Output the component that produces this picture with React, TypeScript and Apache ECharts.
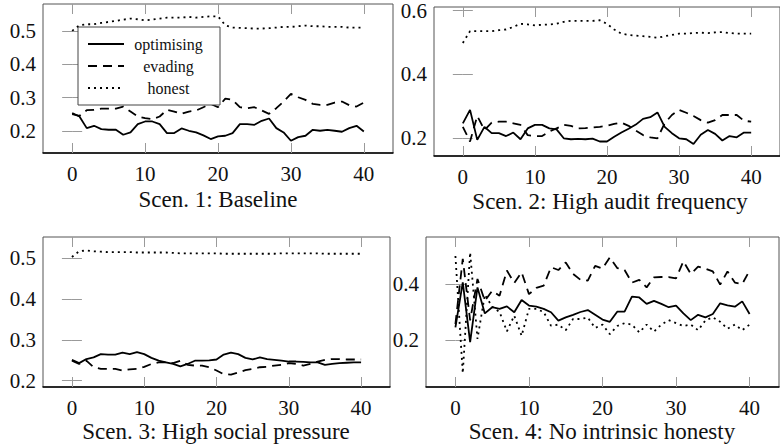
import React, { useEffect, useRef } from "react";
import * as echarts from "echarts";

const steps = Array.from({ length: 41 }, (_, i) => i);
const seriesNames = ["optimising", "evading", "honest"];
const panelTitles = [
  "Scen. 1: Baseline",
  "Scen. 2: High audit frequency",
  "Scen. 3: High social pressure",
  "Scen. 4: No intrinsic honesty",
];
const xTicks = [0, 10, 20, 30, 40];
const yTicks1 = [0.2, 0.3, 0.4, 0.5];
const yTicks2 = [0.2, 0.4, 0.6];
const yTicks3 = [0.2, 0.3, 0.4, 0.5];
const yTicks4 = [0.2, 0.4];

const s1Opt = [0.253,0.243,0.208,0.215,0.205,0.203,0.203,0.188,0.195,0.22,0.228,0.228,0.22,0.193,0.193,0.207,0.2,0.195,0.186,0.175,0.183,0.185,0.193,0.22,0.22,0.218,0.23,0.237,0.208,0.195,0.17,0.181,0.185,0.203,0.2,0.203,0.2,0.197,0.208,0.215,0.198];
const s1Eva = [0.25,0.245,0.262,0.263,0.267,0.267,0.267,0.273,0.258,0.243,0.238,0.235,0.243,0.263,0.258,0.251,0.258,0.261,0.271,0.281,0.271,0.297,0.293,0.271,0.268,0.271,0.261,0.251,0.268,0.288,0.311,0.301,0.293,0.281,0.278,0.278,0.285,0.288,0.277,0.273,0.285];
const s1Hon = [0.501,0.518,0.521,0.521,0.525,0.528,0.531,0.535,0.538,0.536,0.533,0.535,0.538,0.541,0.541,0.541,0.543,0.541,0.543,0.545,0.545,0.518,0.511,0.51,0.509,0.508,0.508,0.509,0.511,0.513,0.513,0.515,0.517,0.515,0.515,0.513,0.513,0.513,0.511,0.511,0.511];

const s2Opt = [0.247,0.289,0.195,0.236,0.216,0.216,0.207,0.218,0.197,0.231,0.242,0.242,0.231,0.228,0.2,0.197,0.198,0.197,0.199,0.19,0.19,0.205,0.218,0.23,0.243,0.261,0.266,0.281,0.236,0.216,0.2,0.197,0.182,0.211,0.226,0.214,0.193,0.207,0.203,0.218,0.218];
const s2Eva = [0.236,0.19,0.27,0.226,0.249,0.252,0.252,0.247,0.242,0.21,0.207,0.207,0.221,0.231,0.242,0.239,0.231,0.232,0.234,0.236,0.239,0.245,0.249,0.239,0.224,0.21,0.203,0.2,0.247,0.273,0.289,0.28,0.27,0.257,0.249,0.257,0.273,0.273,0.273,0.255,0.252];
const s2Hon = [0.499,0.536,0.536,0.536,0.536,0.539,0.541,0.549,0.559,0.557,0.554,0.556,0.557,0.559,0.565,0.568,0.568,0.568,0.568,0.57,0.559,0.541,0.528,0.524,0.522,0.52,0.518,0.515,0.52,0.524,0.528,0.528,0.53,0.531,0.53,0.532,0.533,0.53,0.528,0.528,0.528];

const s3Opt = [0.251,0.243,0.253,0.257,0.265,0.264,0.264,0.269,0.265,0.27,0.265,0.256,0.249,0.245,0.241,0.235,0.241,0.249,0.249,0.25,0.252,0.264,0.269,0.265,0.256,0.252,0.257,0.253,0.251,0.249,0.247,0.247,0.246,0.245,0.245,0.239,0.241,0.243,0.244,0.245,0.245];
const s3Eva = [0.249,0.241,0.249,0.233,0.229,0.229,0.229,0.225,0.228,0.229,0.234,0.241,0.245,0.245,0.243,0.249,0.239,0.237,0.237,0.233,0.225,0.216,0.215,0.22,0.226,0.229,0.233,0.234,0.237,0.239,0.243,0.241,0.237,0.241,0.247,0.251,0.253,0.253,0.252,0.252,0.252];
const s3Hon = [0.503,0.517,0.519,0.517,0.516,0.515,0.515,0.515,0.515,0.514,0.514,0.514,0.514,0.514,0.513,0.512,0.512,0.512,0.512,0.512,0.512,0.511,0.511,0.511,0.511,0.511,0.511,0.511,0.511,0.512,0.512,0.512,0.512,0.512,0.512,0.511,0.511,0.511,0.511,0.511,0.511];

const s4Opt = [0.245,0.406,0.192,0.388,0.295,0.317,0.311,0.32,0.299,0.343,0.323,0.319,0.311,0.299,0.269,0.281,0.29,0.3,0.307,0.29,0.273,0.265,0.301,0.301,0.355,0.352,0.329,0.34,0.329,0.317,0.323,0.295,0.271,0.29,0.281,0.293,0.331,0.324,0.319,0.338,0.293];
const s4Eva = [0.257,0.49,0.27,0.418,0.34,0.376,0.358,0.448,0.404,0.442,0.364,0.386,0.394,0.46,0.45,0.477,0.436,0.415,0.412,0.465,0.455,0.495,0.457,0.45,0.405,0.415,0.388,0.424,0.425,0.425,0.42,0.481,0.436,0.462,0.455,0.445,0.398,0.445,0.405,0.4,0.448];
const s4Hon = [0.5,0.081,0.513,0.204,0.362,0.319,0.3,0.231,0.287,0.215,0.311,0.311,0.3,0.251,0.255,0.235,0.275,0.275,0.28,0.243,0.255,0.221,0.25,0.26,0.255,0.227,0.255,0.23,0.255,0.271,0.26,0.25,0.255,0.235,0.27,0.281,0.265,0.24,0.255,0.235,0.255];

const panelData = [
  [s1Opt, s1Eva, s1Hon],
  [s2Opt, s2Eva, s2Hon],
  [s3Opt, s3Eva, s3Hon],
  [s4Opt, s4Eva, s4Hon],
];
const panelYTicks = [yTicks1, yTicks2, yTicks3, yTicks4];
const panelYMin = [0.133, 0.1445, 0.1846, 0.032];
const panelYMax = [0.582, 0.6116, 0.552, 0.568];

const FAMILY = "Liberation Serif";
const FONT = '"Liberation Serif", serif';

const grids = [
  { left: 43, top: 4, width: 350, height: 149 },
  { left: 434, top: 7, width: 352, height: 149 },
  { left: 43, top: 237, width: 347, height: 150 },
  { left: 426, top: 237, width: 353, height: 150 },
];
const titlePos = [
  [218, 199],
  [610, 201],
  [216, 431],
  [602, 431],
];

const lineTypes: any[] = ["solid", [9, 6], [2, 4]];

export default function App() {
  const ref = useRef<HTMLDivElement>(null);
  useEffect(() => {
    if (!ref.current) return;
    const chart = echarts.init(ref.current, null, { renderer: "svg" });
    const xAxis: any[] = [];
    const yAxis: any[] = [];
    const series: any[] = [];
    const tickStyle = { inside: true, length: 10, lineStyle: { color: "#9a9a9a", width: 1 } };
    const labelStyle = { fontFamily: FAMILY, fontSize: 21, color: "#111" };
    grids.forEach((g, i) => {
      xAxis.push({
        type: "value", gridIndex: i, min: -4, max: 44, position: "bottom",
        axisLine: { show: true, onZero: false, lineStyle: { color: "#000", width: 1.5 } },
        axisTick: { ...tickStyle, customValues: xTicks },
        axisLabel: { customValues: xTicks, ...labelStyle, margin: 10 },
        splitLine: { show: false },
      });
      xAxis.push({
        type: "value", gridIndex: i, min: -4, max: 44, position: "top",
        axisLine: { show: false },
        axisTick: { ...tickStyle, customValues: xTicks },
        axisLabel: { show: false },
        splitLine: { show: false },
      });
      yAxis.push({
        type: "value", gridIndex: i, min: panelYMin[i], max: panelYMax[i], position: "left",
        axisLine: { show: false },
        axisTick: { ...tickStyle, customValues: panelYTicks[i] },
        axisLabel: { customValues: panelYTicks[i], ...labelStyle, margin: 7, formatter: (v: number) => v.toFixed(1) },
        splitLine: { show: false },
      });
      yAxis.push({
        type: "value", gridIndex: i, min: panelYMin[i], max: panelYMax[i], position: "right",
        axisLine: { show: false },
        axisTick: { ...tickStyle, customValues: panelYTicks[i] },
        axisLabel: { show: false },
        splitLine: { show: false },
      });
      panelData[i].forEach((vals, k) => {
        series.push({
          type: "line", name: seriesNames[k], xAxisIndex: 2 * i, yAxisIndex: 2 * i,
          data: steps.map((x, j) => [x, vals[j]]),
          symbol: "none", showSymbol: false,
          lineStyle: { color: "#000", width: 1.8, type: lineTypes[k] },
          itemStyle: { color: "#000" },
        });
      });
    });
    const option: any = {
      animation: false,
      backgroundColor: "#fff",
      textStyle: { fontFamily: FAMILY },
      grid: grids.map((g) => ({ ...g, show: true, borderColor: "#555", borderWidth: 1, backgroundColor: "transparent" })),
      xAxis, yAxis, series,
      legend: {
        left: 78, top: 27, orient: "vertical", data: seriesNames,
        itemWidth: 36, itemHeight: 14, itemGap: 6, padding: [9, 12, 9, 9],
        borderColor: "#444", borderWidth: 1, backgroundColor: "#fff",
        selectedMode: false,
        itemStyle: { color: "transparent", borderColor: "transparent", borderWidth: 0, opacity: 0 },
        textStyle: { fontFamily: FAMILY, fontSize: 16, color: "#111", lineHeight: 14,
          rich: { c: { width: 79, align: "center", fontFamily: FAMILY, fontSize: 16, color: "#111", lineHeight: 14 } } },
        formatter: (n: string) => `{c|${n}}`,
      },
      graphic: panelTitles.map((t, i) => ({
        type: "text", x: titlePos[i][0], y: titlePos[i][1],
        style: { text: t, font: `23px ${FONT}`, fill: "#111", align: "center", verticalAlign: "middle" },
      })),
    };
    chart.setOption(option);
    return () => chart.dispose();
  }, []);
  return <div ref={ref} style={{ position: "fixed", left: 0, top: 0, width: 780, height: 447 }} />;
}
